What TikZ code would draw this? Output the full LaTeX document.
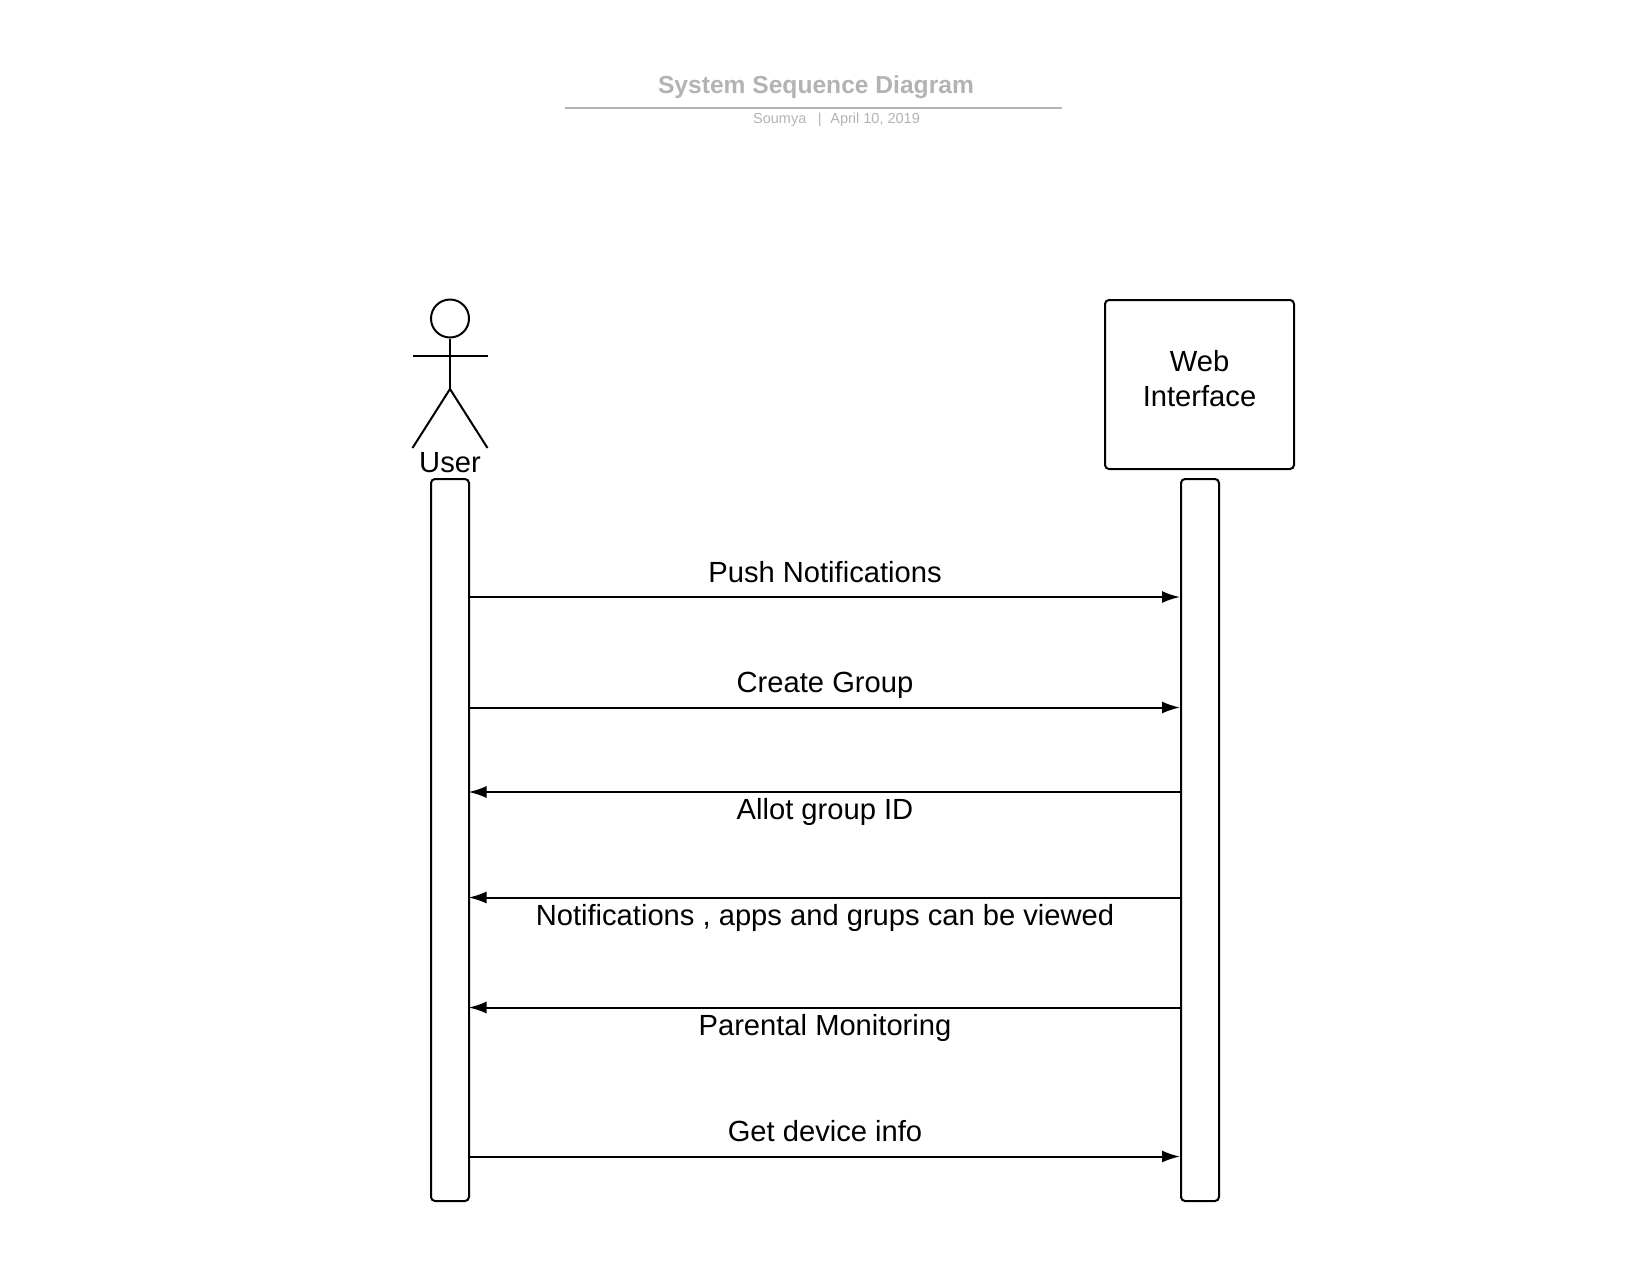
\documentclass[tikz,border=0pt]{standalone}
\usepackage{fontspec}
\setmainfont{Liberation Sans}
\usetikzlibrary{arrows.meta}
\definecolor{titlegray}{HTML}{B3B3B3}
\tikzset{
  bar/.style={draw=black,line width=2pt,rounded corners=4pt,minimum width=38pt,inner sep=0pt,fill=white},
  msg/.style={draw=black,line width=2pt,-{Latex[length=18pt,width=12pt]}},
  msgback/.style={msg,shorten >=-1.5pt},
  limb/.style={draw=black,line width=2pt},
  lbl/.style={font=\fontsize{29.15pt}{35pt}\selectfont,text=black,inner sep=0pt,anchor=base},
}
\begin{document}
\begin{tikzpicture}[x=1pt,y=-1pt]
\useasboundingbox (0,0) rectangle (1650,1275);
% title
\node[anchor=base,inner sep=0pt,text=titlegray,font=\bfseries\fontsize{24.6pt}{30pt}\selectfont] (title) at (816,93) {System Sequence Diagram};
\coordinate (ruleL) at (564.5,107.5);
\coordinate (ruleR) at (1061.5,107.5);
\draw[titlegray,line width=2pt] (ruleL) -- (ruleR);
\node[anchor=base,inner sep=0pt,text=titlegray,font=\fontsize{14.5pt}{18pt}\selectfont] (sub) at (836.5,123) {Soumya\hspace{0.8em}|\hspace{0.6em}April 10, 2019};
% actor
\node[draw=black,line width=2pt,circle,minimum size=38pt,inner sep=0pt] (head) at (450,318.5) {};
\coordinate (neck) at (450,356);
\coordinate (armL) at (412.5,356);
\coordinate (armR) at (487.5,356);
\coordinate (hip) at (450,389);
\coordinate (legL) at (412.5,448);
\coordinate (legR) at (487.5,448);
\draw[limb] (head.south) -- (hip);
\draw[limb] (armL) -- (armR);
\draw[limb] (legL) -- (hip) -- (legR);
\node[lbl] (user) at (450,472) {User};
% web interface
\node[draw=black,line width=2pt,rounded corners=4pt,minimum width=189pt,minimum height=169pt,inner sep=0pt] (web) at (1199.5,384.5) {};
\node[lbl] (webA) at (1199.5,371) {Web};
\node[lbl] (webB) at (1199.5,406) {Interface};
% bars
\node[bar,minimum height=722pt] (lbar) at (450,840) {};
\node[bar,minimum height=722pt] (rbar) at (1200,840) {};
% y levels
\coordinate (m1) at (0,597);
\coordinate (m2) at (0,707.5);
\coordinate (m3) at (0,792);
\coordinate (m4) at (0,897.5);
\coordinate (m5) at (0,1007.5);
\coordinate (m6) at (0,1156.5);
\draw[msg] (lbar.east |- m1) -- (rbar.west |- m1);
\draw[msg] (lbar.east |- m2) -- (rbar.west |- m2);
\draw[msgback] (rbar.west |- m3) -- (lbar.east |- m3);
\draw[msgback] (rbar.west |- m4) -- (lbar.east |- m4);
\draw[msgback] (rbar.west |- m5) -- (lbar.east |- m5);
\draw[msg] (lbar.east |- m6) -- (rbar.west |- m6);
% labels
\node[lbl] (t1) at (825,582) {Push Notifications};
\node[lbl] (t2) at (825,692) {Create Group};
\node[lbl] (t3) at (825,819) {Allot group ID};
\node[lbl] (t4) at (825,925) {Notifications , apps and grups can be viewed};
\node[lbl] (t5) at (825,1035) {Parental Monitoring};
\node[lbl] (t6) at (825,1141) {Get device info};
\end{tikzpicture}
\end{document}
